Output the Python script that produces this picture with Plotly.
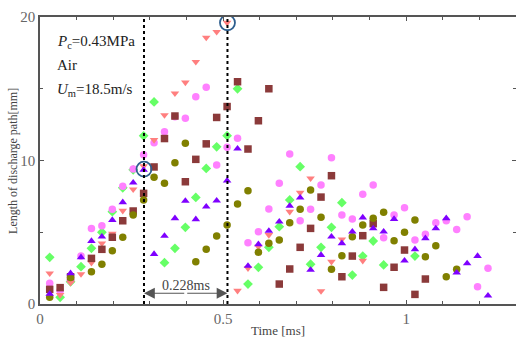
import plotly.graph_objects as go

# frame times [ms] (35 kfps high-speed frames)
time_ms = [0.0265, 0.0550, 0.0835, 0.1120, 0.1405, 0.1690, 0.1975, 0.2260, 0.2545, 0.2830,
           0.3115, 0.3400, 0.3685, 0.3970, 0.4255, 0.4540, 0.4825, 0.5110, 0.5395, 0.5680,
           0.5965, 0.6250, 0.6535, 0.6820, 0.7105, 0.7390, 0.7675, 0.7960, 0.8245, 0.8530,
           0.8815, 0.9100, 0.9385, 0.9670, 0.9955, 1.0240, 1.0525, 1.0810, 1.1095, 1.1380,
           1.1665, 1.1950, 1.2235]

N = None
# discharge path length [mm] per frame for six discharges (None = not visible)
green = [3.25, 0.47, 1.55, 2.6, 3.88, 5.0, 6.43, 8.1, 9.35, 11.72,
         14.08, 2.88, 3.88, 5.34, 7.43, 9.45, 10.95, 11.73, 15.0, 1.39,
         2.56, 3.95, 5.39, 7.25, 9.57, 2.77, 3.95, 5.34, 7.06, 2.02,
         3.34, 4.39, 2.72, N, N, 3.34, N, N, N, N, N, N, N]
pink = [1.44, 0.93, 1.67, 3.35, 5.27, 5.46, 6.6, 8.2, 9.4, 10.4,
        11.24, 12.0, 13.05, 12.94, 14.45, 15.1, 9.69, 10.92, 11.55, 4.27,
        5.04, 6.62, 8.41, 10.45, 5.8, 6.6, 8.29, 10.2, 6.2, 5.92,
        7.64, 8.29, 4.62, 6.2, 6.71, 4.46, 4.86, 5.67, 5.8, 5.2,
        6.08, 1.21, 2.49]
salmon = [2.14, 0.63, 1.48, 2.09, 2.88, 4.23, 4.9, 6.5, 7.99, 9.6,
          11.43, 13.17, 14.68, 15.44, 16.88, 18.57, 18.97, 19.6, 0.93, 2.5,
          3.99, 4.81, N, 6.43, 7.76, 8.76, 0.9, 2.95, 4.51, N,
          3.02, N, N, N, N, N, N, N, N, N, N, N, N]
brown = [1.02, 1.14, 1.9, N, 3.18, 3.81, 4.65, 5.8, 6.48, 7.71,
         9.55, 11.53, 13.1, 8.52, 10.08, 11.16, 13.0, 13.76, 15.49, 10.8,
         12.77, 15.0, 1.39, 2.44, 3.95, 5.27, 7.45, 8.94, 1.9, 3.34,
         4.76, 5.6, 1.16, 2.56, 3.76, 0.67, 1.74, N, N, N, N, N, N]
olive = [0.47, N, 1.85, N, 2.25, 2.77, 3.71, 4.65, 6.2, 7.25,
         8.83, 8.41, 9.85, 11.2, 2.95, 3.81, 4.74, 5.5, 6.97, 7.9,
         3.6, 4.23, 4.46, 5.67, 6.6, 7.94, 6.04, 2.42, 3.37, 4.69,
         5.5, 5.97, 6.39, 4.41, 5.0, 5.85, 3.3, 4.06, 1.9, 2.42, N, N, N]
purple = [0.7, N, 2.14, 3.25, 4.39, 4.69, 5.85, 7.09, 8.45, 9.34,
          3.48, 4.74, 5.97, 7.18, 5.9, 6.78, 7.2, 8.59, 10.82, 2.65,
          4.16, 5.09, 5.74, 6.83, 7.41, 2.37, 3.41, 4.69, 4.23, 5.04,
          6.02, 5.27, 5.04, 5.92, 3.02, 3.81, 4.58, 5.27, 5.97, 2.18,
          2.83, 3.34, 0.58]

# marked interval
t_start = 0.284
t_end = 0.512
circ_t = [0.284, 0.512]
circ_L = [9.4, 19.6]
interval_label = "0.228ms"

series = [
    (green, "diamond", "#66FF66"),
    (pink, "circle", "#FF80FF"),
    (salmon, "triangle-down", "#FF7F7F"),
    (brown, "square", "#8B3A3A"),
    (olive, "circle", "#808000"),
    (purple, "triangle-up", "#7F00FF"),
]

FONT = "Liberation Serif"
fig = go.Figure()
for vals, sym, col in series:
    fig.add_trace(go.Scatter(x=time_ms, y=vals, mode="markers",
                             marker=dict(symbol=sym, size=7.5, color=col, line=dict(width=0)),
                             showlegend=False, hoverinfo="skip"))

for t in (t_start, t_end):
    fig.add_shape(type="line", x0=t, x1=t, y0=0, y1=20, xref="x", yref="y",
                  line=dict(color="black", width=2, dash="dot"))

fig.add_trace(go.Scatter(x=circ_t, y=circ_L, mode="markers",
                         marker=dict(symbol="circle-open", size=15, color="#2E5E8E",
                                     line=dict(width=1.8)),
                         showlegend=False, hoverinfo="skip"))

mid = (t_start + t_end) / 2
for head in (t_start, t_end):
    fig.add_annotation(x=head, y=0.75, ax=mid, ay=0.75, xref="x", yref="y",
                       axref="x", ayref="y", text="", showarrow=True,
                       arrowhead=2, arrowsize=1.8, arrowwidth=1.2, arrowcolor="#555555")
fig.add_annotation(x=mid, y=1.3, xref="x", yref="y", text=interval_label,
                   showarrow=False, font=dict(family=FONT, size=14, color="#444444"))

txt = dict(xref="paper", yref="paper", showarrow=False, xanchor="left",
           font=dict(family=FONT, size=15, color="#222222"))
fig.add_annotation(x=0.032, y=0.95, text="<i>P</i><sub>c</sub>=0.43MPa", **txt)
fig.add_annotation(x=0.032, y=0.868, text="Air", **txt)
fig.add_annotation(x=0.032, y=0.785, text="<i>U</i><sub>m</sub>=18.5m/s", **txt)

# axis titles as paper annotations (fixed positions)
fig.add_annotation(x=0.5, y=-0.058, xref="paper", yref="paper", yanchor="top",
                   text="Time [ms]", showarrow=False,
                   font=dict(family=FONT, size=13, color="#444444"))
fig.add_annotation(x=-0.058, y=0.5, xref="paper", yref="paper", xanchor="center",
                   text="Length of discharge path[mm]", showarrow=False, textangle=-90,
                   font=dict(family=FONT, size=12, color="#444444"))

axis_common = dict(showgrid=False, zeroline=False, showline=True, linecolor="#555555",
                   linewidth=1.5, mirror="ticks", ticks="inside", ticklen=4,
                   tickcolor="#555555", automargin=False,
                   tickfont=dict(family=FONT, size=15, color="#666666"))
fig.update_xaxes(range=[0, 1.3], tickvals=[0, 0.5, 1], ticktext=["0", "0.5", "1"],
                 minor=dict(dtick=0.1, ticks="inside", ticklen=3, tickcolor="#555555"),
                 **axis_common)
fig.update_yaxes(range=[0, 20], tickvals=[0, 10, 20],
                 minor=dict(dtick=5, ticks="inside", ticklen=3, tickcolor="#555555"),
                 **axis_common)

fig.update_layout(width=516, height=340, margin=dict(l=40, r=0, t=17, b=36),
                  plot_bgcolor="white", paper_bgcolor="white")
fig.write_html("out.html", config={"displayModeBar": False},
               post_script="document.body.style.margin='0';document.body.style.padding='0';")
